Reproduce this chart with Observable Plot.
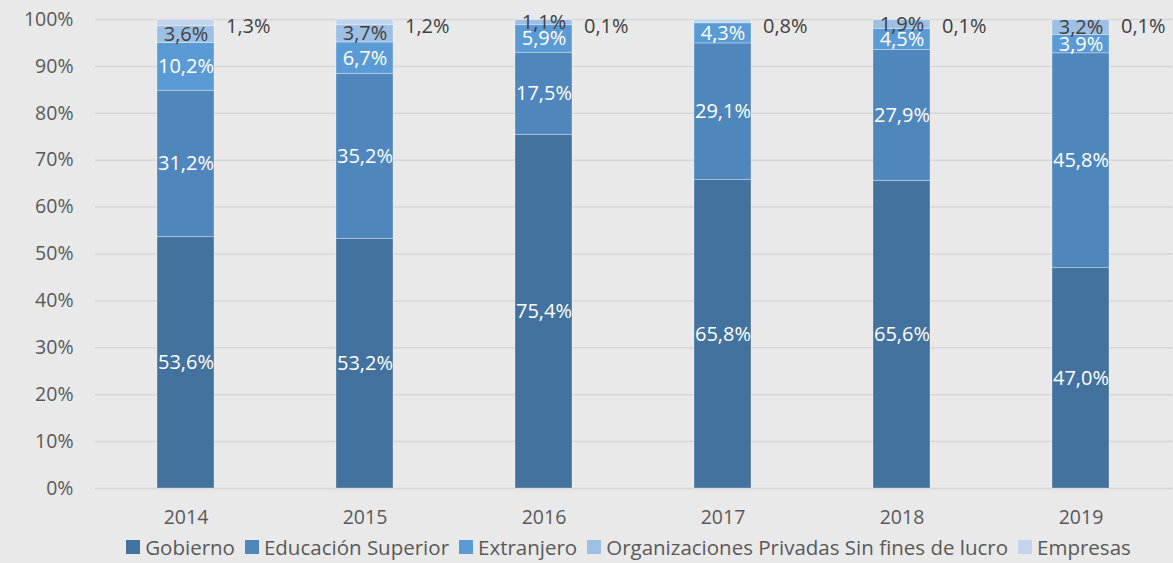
<!DOCTYPE html>
<html>
<head>
<meta charset="utf-8">
<script src="https://cdn.jsdelivr.net/npm/d3@7"></script>
<script src="https://cdn.jsdelivr.net/npm/@observablehq/plot@0.6"></script>
<style>
  html, body { margin: 0; padding: 0; background: #e9e9e9; }
  body { width: 1173px; height: 563px; overflow: hidden; font-family: "Open Sans", sans-serif; }
  #legend { display: flex; justify-content: center; align-items: center; height: 33px; font-size: 20.5px; color: #595959; padding-left: 84px; }
  #legend .item { display: flex; align-items: center; margin: 0 5px; }
  #legend .sw { width: 14px; height: 14px; margin-right: 5px; }
</style>
</head>
<body>
<div id="chart"></div>
<div id="legend"></div>
<script>
const years = ["2014", "2015", "2016", "2017", "2018", "2019"];
const series = ["Gobierno", "Educación Superior", "Extranjero", "Organizaciones Privadas Sin fines de lucro", "Empresas"];
const gobierno = [53.6, 53.2, 75.4, 65.8, 65.6, 47.0];
const educacion = [31.2, 35.2, 17.5, 29.1, 27.9, 45.8];
const extranjero = [10.2, 6.7, 5.9, 4.3, 4.5, 3.9];
const organizaciones = [3.6, 3.7, 1.1, 0, 1.9, 3.2];
const empresas = [1.3, 1.2, 0.1, 0.8, 0.1, 0.1];
const colors = ["#42729d", "#4f87bc", "#5b9bd5", "#9ebfe4", "#c1d5ed"];
const yTicks = [0, 10, 20, 30, 40, 50, 60, 70, 80, 90, 100];

const seriesValues = [gobierno, educacion, extranjero, organizaciones, empresas];
const data = [];
years.forEach((yr, i) => {
  series.forEach((s, j) => {
    data.push({year: yr, serie: s, value: seriesValues[j][i]});
  });
});
const fmt = v => v.toFixed(1).replace(".", ",") + "%";
const whiteSet = new Set(series.slice(0, 3));

const stackOpts = {x: "year", y: "value", z: "serie", order: series};

const chart = Plot.plot({
  width: 1173,
  height: 530,
  marginTop: 19,
  marginBottom: 42,
  marginLeft: 95,
  marginRight: 1,
  style: {background: "transparent", fontFamily: "Open Sans, sans-serif", fontSize: "19px", color: "#595959"},
  x: {domain: years, paddingInner: 0.68, paddingOuter: 0.34, label: null},
  y: {domain: [0, 100], label: null},
  color: {domain: series, range: colors},
  marks: [
    Plot.gridY(yTicks, {stroke: "#d7d7d7", strokeOpacity: 1, strokeWidth: 1.5}),
    Plot.barY(data, {...stackOpts, fill: "serie", stroke: "#ffffff", strokeOpacity: 0.3, strokeWidth: 1}),
    Plot.text(data, Plot.stackY({...stackOpts, text: d => (whiteSet.has(d.serie) && d.value > 0) ? fmt(d.value) : null, fill: "white", fontSize: 20})),
    Plot.text(data, Plot.stackY({...stackOpts, text: d => (d.serie === series[3] && d.value > 0) ? fmt(d.value) : null, fill: "#404040", fontSize: 20})),
    Plot.text(data, Plot.stackY2({...stackOpts, text: d => d.serie === series[4] ? fmt(d.value) : null, fill: "#404040", fontSize: 20, textAnchor: "start", dx: 40, dy: 7})),
    Plot.axisY(yTicks, {tickFormat: d => d + "%", tickSize: 0, tickPadding: 22, fill: "#595959", fontSize: 19.5}),
    Plot.axisX({tickSize: 0, tickPadding: 22, fill: "#595959", fontSize: 19.5})
  ]
});
document.getElementById("chart").appendChild(chart);

const legend = document.getElementById("legend");
series.forEach((s, i) => {
  const item = document.createElement("div");
  item.className = "item";
  const sw = document.createElement("div");
  sw.className = "sw";
  sw.style.background = colors[i];
  const label = document.createElement("span");
  label.textContent = s;
  item.appendChild(sw);
  item.appendChild(label);
  legend.appendChild(item);
});
</script>
</body>
</html>
